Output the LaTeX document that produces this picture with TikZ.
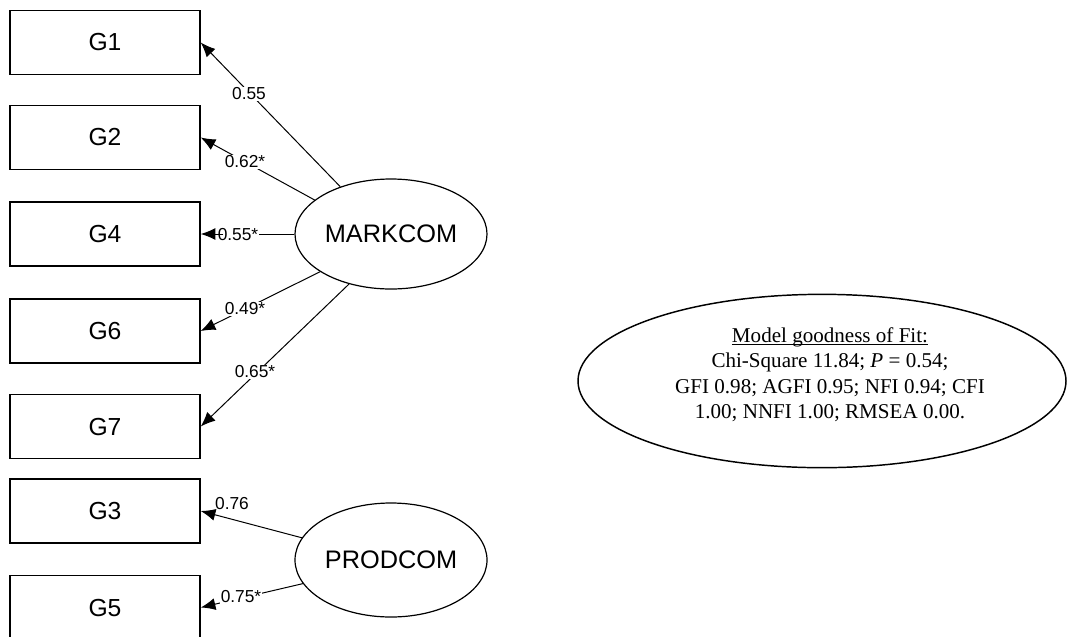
\documentclass[tikz,border=0pt]{standalone}
\usepackage{fontspec}
\setmainfont{Liberation Serif}
\newfontfamily\arialf{Liberation Sans}
\usetikzlibrary{arrows.meta,shapes.geometric}
\begin{document}
\begin{tikzpicture}[x=0.75pt,y=-0.75pt,
 obs/.style={draw,line width=1.1pt,minimum width=142.5pt,minimum height=48pt,inner sep=0pt,font=\arialf\fontsize{18.5}{22}\selectfont},
 lat/.style={draw,ellipse,line width=0.9pt,minimum width=144pt,inner sep=0pt,font=\arialf\fontsize{19}{22}\selectfont},
 ld/.style={line width=0.75pt,-{Latex[length=11pt,width=9pt]}},
 lab/.style={fill=white,inner sep=0.8pt,font=\arialf\fontsize{13}{15}\selectfont}]
\useasboundingbox (0,0) rectangle (1070,636);
% observed
\node[obs] (g1) at (105,42.5) {G1};
\node[obs] (g2) at (105,137.5) {G2};
\node[obs] (g4) at (105,234) {G4};
\node[obs] (g6) at (105,331) {G6};
\node[obs] (g7) at (105,426.5) {G7};
\node[obs] (g3) at (105,511) {G3};
\node[obs] (g5) at (105,607.5) {G5};
% latent
\node[lat,minimum height=82.5pt] (mk) at (391,234) {MARKCOM};
\node[lat,minimum height=85.5pt] (pc) at (391,560) {PRODCOM};
% loadings
\draw[ld] (mk.137) -- (g1.east);
\draw[ld] (mk.156) -- (g2.east);
\draw[ld] (mk.208) -- (g6.east);
\draw[ld] (mk.230) -- (g7.east);
\draw[ld] (pc.166) -- (g3.east);
\draw[ld] (pc.195) -- (g5.east);
\node[lab] (l1) at (249,94) {0.55};
\node[lab] (l2) at (245,162) {0.62*};
\node[lab,inner sep=0pt] (l4) at (238,235) {0.55*};
\node[lab] (l6) at (245,309) {0.49*};
\node[lab] (l7) at (255,372) {0.65*};
\node[lab,fill=none] (l3) at (232,504) {0.76};
\node[lab] (l5) at (241,597) {0.75*};
\draw[line width=0.75pt] (mk.west) -- (l4.east |- mk.west);
\draw[ld] (l4.west |- g4.east) ++(6,0) -- (g4.east);
% fit
\node[draw,ellipse,line width=1.1pt,minimum width=366pt,minimum height=130pt,inner sep=0pt] (fitell) at (822,381) {};
\node[font=\fontsize{15.8}{19}\selectfont,align=center] (fit) at (830,382)
 {\underline{\smash{Model goodness of Fit:}}\\ Chi-Square 11.84; \textit{P} = 0.54;\\ GFI 0.98; AGFI 0.95; NFI 0.94; CFI\\ 1.00; NNFI 1.00; RMSEA 0.00.};
\end{tikzpicture}
\end{document}
